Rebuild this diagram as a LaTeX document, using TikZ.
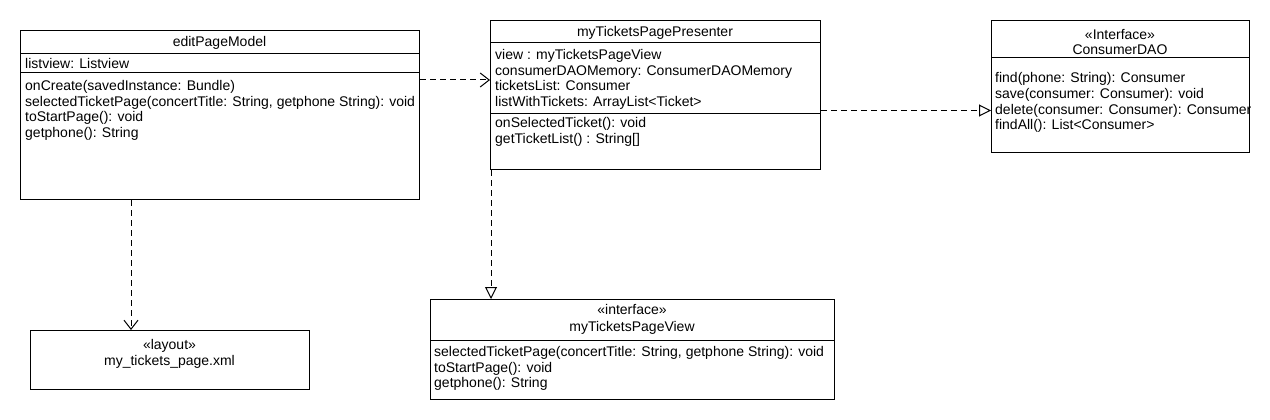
\documentclass[tikz,border=0pt]{standalone}
\usepackage{fontspec}
\setmainfont{Liberation Sans}
\usetikzlibrary{arrows.meta}
\tikzset{
  box/.style={draw, line width=1pt, anchor=north west, inner sep=0pt, rectangle},
  ln/.style={anchor=base west, inner sep=0pt},
  ctr/.style={anchor=base, inner sep=0pt},
  sep/.style={line width=1pt},
  dep/.style={line width=1pt, dash pattern=on 6pt off 4pt, -{Straight Barb[length=9pt,width=14pt,line width=1pt]}},
  real/.style={line width=1pt, dash pattern=on 6pt off 4pt, -{Triangle[open,length=12pt,width=12pt,fill=white,line width=1pt]}}
}
\begin{document}
\begin{tikzpicture}[x=1pt,y=-1pt,font=\fontsize{14}{15.6}\selectfont]
\useasboundingbox (0,0) rectangle (1270,420);

% editPageModel
\node[box, minimum width=399pt, minimum height=169pt] (epm) at (20,30) {};
\draw[sep] (epm.west |- 0,54) -- (epm.east |- 0,54);
\draw[sep] (epm.west |- 0,73) -- (epm.east |- 0,73);
\node[ctr] (epmT) at (219.5,46.5) {editPageModel};
\node[ln] (epmA) at (25,68.5) {listview: Listview};
\foreach \t [count=\i] in {{onCreate(savedInstance: Bundle)},{selectedTicketPage(concertTitle: String, getphone String): void},{toStartPage(): void},{getphone(): String}}
  \node[ln] (epmM\i) at (25,{90.5+(\i-1)*15.6}) {\t};

% myTicketsPagePresenter
\node[box, minimum width=330pt, minimum height=149pt] (pres) at (490,20) {};
\draw[sep] (pres.west |- 0,43) -- (pres.east |- 0,43);
\draw[sep] (pres.west |- 0,113) -- (pres.east |- 0,113);
\node[ctr] (presT) at (655,36.5) {myTicketsPagePresenter};
\foreach \t [count=\i] in {{view : myTicketsPageView},{consumerDAOMemory: ConsumerDAOMemory},{ticketsList: Consumer},{listWithTickets: ArrayList<Ticket>}}
  \node[ln] (presA\i) at (495,{59.5+(\i-1)*15.6}) {\t};
\foreach \t [count=\i] in {{onSelectedTicket(): void},{getTicketList() : String[]}}
  \node[ln] (presM\i) at (495,{127.5+(\i-1)*15.6}) {\t};

% ConsumerDAO
\node[box, minimum width=258pt, minimum height=132pt] (dao) at (991,20) {};
\draw[sep] (dao.west |- 0,58) -- (dao.east |- 0,58);
\node[ctr] (daoS) at (1120,39.5) {«Interface»};
\node[ctr] (daoT) at (1120,54.5) {ConsumerDAO};
\foreach \t [count=\i] in {{find(phone: String): Consumer},{save(consumer: Consumer): void},{delete(consumer: Consumer): Consumer},{findAll(): List<Consumer>}}
  \node[ln] (daoM\i) at (995,{82.5+(\i-1)*15.8}) {\t};

% layout
\node[box, minimum width=279pt, minimum height=59pt] (lay) at (30,330) {};
\node[ctr] (layS) at (169.5,349.5) {«layout»};
\node[ctr] (layT) at (169.5,365.5) {my\_tickets\_page.xml};

% myTicketsPageView
\node[box, minimum width=404pt, minimum height=100pt] (view) at (430,299) {};
\draw[sep] (view.west |- 0,340) -- (view.east |- 0,340);
\node[ctr] (viewS) at (632,314.5) {«interface»};
\node[ctr] (viewT) at (632,331) {myTicketsPageView};
\foreach \t [count=\i] in {{selectedTicketPage(concertTitle: String, getphone String): void},{toStartPage(): void},{getphone(): String}}
  \node[ln] (viewM\i) at (434,{356.5+(\i-1)*15.6}) {\t};

% connectors
\draw[dep] (epm.east |- 0,80) -- (pres.west |- 0,80);
\draw[real] (pres.east |- 0,110.5) -- (dao.west |- 0,110.5);
\draw[dep] (epm.south -| 131,0) -- (lay.north -| 131,0);
\draw[real] (pres.south -| 491,0) -- (view.north -| 491,0);
\end{tikzpicture}
\end{document}
